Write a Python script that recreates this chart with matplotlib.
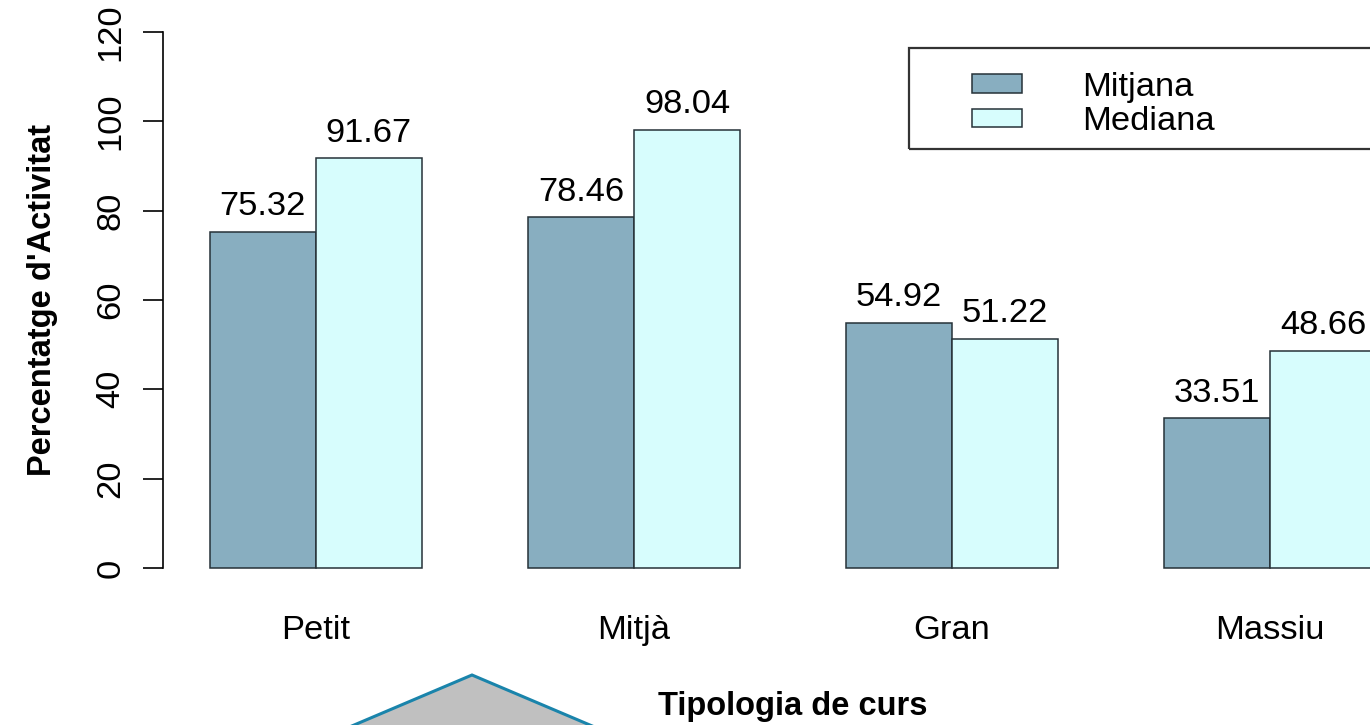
import numpy as np
import matplotlib
matplotlib.use('Agg')
import matplotlib.pyplot as plt
from matplotlib.patches import Rectangle, Polygon

plt.rcParams['font.family'] = ['Liberation Sans', 'DejaVu Sans']

categories = ['Petit', 'Mitjà', 'Gran', 'Massiu']
mitjana = [75.32, 78.46, 54.92, 33.51]
mediana = [91.67, 98.04, 51.22, 48.66]
series_names = ['Mitjana', 'Mediana']
colors = ['#88aec0', '#d7fdfd']
yticks = [0, 20, 40, 60, 80, 100, 120]

fs = 24.8
fs_bold = 23.5
W, H = 1370, 725
fig = plt.figure(figsize=(W / 100, H / 100), dpi=100)

# plot region in pixels (R style: barplot extends past the right edge)
left_px, right_px, top_px, bot_px = 163, 1423, 10.5, 589.4
ax = fig.add_axes([left_px / W, 1 - bot_px / H,
                   (right_px - left_px) / W, (bot_px - top_px) / H])

# R barplot beside=TRUE: bar width 1, space c(0, 1)
n = len(categories)
starts = 1 + 3 * np.arange(n)
b1 = ax.bar(starts + 0.5, mitjana, width=1, color=colors[0], edgecolor='#263238',
            linewidth=1.1, label=series_names[0])
b2 = ax.bar(starts + 1.5, mediana, width=1, color=colors[1], edgecolor='#263238',
            linewidth=1.1, label=series_names[1])
ax.bar_label(b1, labels=[f'{v:.2f}' for v in mitjana], padding=7, fontsize=fs)
ax.bar_label(b2, labels=[f'{v:.2f}' for v in mediana], padding=7, fontsize=fs)

ax.set_xlim(0.56, 12.44)
ax.set_ylim(-4.8, 124.8)
for s in ['top', 'right', 'bottom']:
    ax.spines[s].set_visible(False)
ax.spines['left'].set_bounds(0, 120)
ax.spines['left'].set_linewidth(1.2)

ax.set_yticks(yticks)
ax.set_yticklabels([str(t) for t in yticks], rotation=90, va='center', fontsize=fs)
ax.tick_params(axis='y', direction='out', length=14.4, width=1.2, pad=12)
ax.set_xticks(starts + 1)
ax.set_xticklabels(categories, fontsize=fs)
ax.tick_params(axis='x', length=0, pad=18.5)

ax.set_xlabel('Tipologia de curs', fontsize=fs_bold, fontweight='bold', labelpad=32)
ax.set_ylabel("Percentatge d'Activitat", fontsize=fs_bold, fontweight='bold', labelpad=27)

# legend (frame runs off the right edge)
fig.patches.append(Rectangle((909 / W, 1 - 149 / H), 600 / W, 101 / H,
                             transform=fig.transFigure, fill=False,
                             edgecolor='#333333', linewidth=1.6))
fig.legend(handles=[b1, b2], labels=series_names, loc='upper left',
           bbox_to_anchor=(972 / W, 1 - 72 / H), frameon=False, fontsize=fs,
           handlelength=1.45, handleheight=0.45, handletextpad=1.75,
           labelspacing=0.1, borderpad=0, borderaxespad=0)

# grey shape at the bottom
fig.patches.append(Polygon([(472 / W, 1 - 675 / H), (340 / W, 1 - 731 / H),
                            (604 / W, 1 - 731 / H)], closed=True,
                           transform=fig.transFigure, facecolor='#c0c0c0',
                           edgecolor='#1a84ab', linewidth=2.2))

fig.savefig('out.png', dpi=100)
